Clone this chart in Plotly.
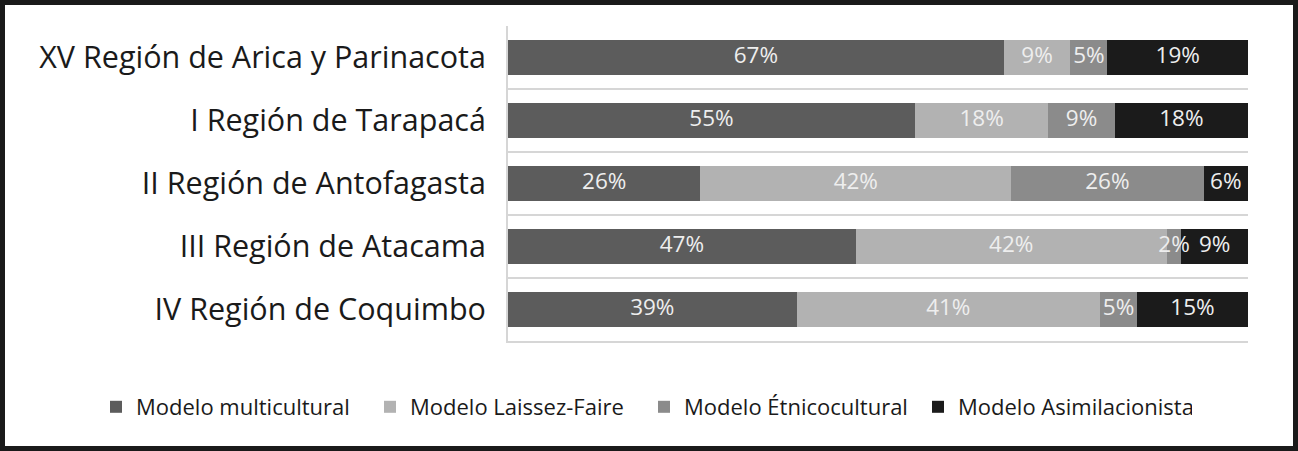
import plotly.graph_objects as go

regions = [
    "XV Región de Arica y Parinacota",
    "I Región de Tarapacá",
    "II Región de Antofagasta",
    "III Región de Atacama",
    "IV Región de Coquimbo",
]
multicultural = [67, 55, 26, 47, 39]
laissez_faire = [9, 18, 42, 42, 41]
etnicocultural = [5, 9, 26, 2, 5]
asimilacionista = [19, 18, 6, 9, 15]

series_names = [
    "Modelo multicultural",
    "Modelo Laissez-Faire",
    "Modelo Étnicocultural",
    "Modelo Asimilacionista",
]
series_values = [multicultural, laissez_faire, etnicocultural, asimilacionista]
series_colors = ["#5c5c5c", "#b2b2b2", "#8b8b8b", "#1b1b1b"]

W, H = 1298, 451
ML, MR, MT, MB = 508, 50, 26, 110
PW, PH = W - ML - MR, H - MT - MB

fig = go.Figure()
cum = [0] * len(regions)
for name, vals, col in zip(series_names, series_values, series_colors):
    fig.add_trace(go.Bar(
        y=regions, x=vals, name=name, orientation="h",
        marker=dict(color=col, line=dict(width=0)),
        hoverinfo="skip",
    ))
    mids = [c + v / 2 for c, v in zip(cum, vals)]
    fig.add_trace(go.Scatter(
        y=regions, x=mids, mode="text",
        text=[f"{v}%" for v in vals],
        textfont=dict(family="Open Sans", size=22.5, color="#eeeeee"),
        showlegend=False, hoverinfo="skip", cliponaxis=False,
    ))
    cum = [c + v for c, v in zip(cum, vals)]

legend_left_px = 96
legend_mid_px = 407

fig.update_layout(
    width=W, height=H,
    margin=dict(l=ML, r=MR, t=MT, b=MB, pad=0),
    barmode="stack", bargap=0.45,
    paper_bgcolor="white", plot_bgcolor="white",
    showlegend=True,
    legend=dict(
        orientation="h", xref="paper", yref="paper",
        x=(legend_left_px - ML) / PW, xanchor="left",
        y=(MT + PH - legend_mid_px) / PH, yanchor="middle",
        font=dict(family="Open Sans", size=22, color="#1a1a1a"),
        entrywidth=229, entrywidthmode="pixels",
        traceorder="normal",
    ),
    xaxis=dict(
        range=[0, 100], showgrid=False, zeroline=False,
        showticklabels=False, ticks="",
        showline=True, linecolor="#d6d6d6", linewidth=2,
        fixedrange=True,
    ),
    yaxis=dict(
        categoryorder="array", categoryarray=regions,
        autorange="reversed",
        tickson="boundaries", ticks="",
        showgrid=True, gridcolor="#d6d6d6", gridwidth=2,
        showline=True, linecolor="#d6d6d6", linewidth=2,
        tickfont=dict(family="Open Sans", size=30.5, color="#1a1a1a"),
        ticklabelstandoff=14,
        zeroline=False,
    ),
)

# outer black frame around the whole figure
bw = 5
fig.add_shape(
    type="rect", xref="paper", yref="paper",
    x0=(-ML + bw / 2) / PW, x1=(PW + MR - bw / 2) / PW,
    y0=(-MB + bw / 2) / PH, y1=(PH + MT - bw / 2) / PH,
    line=dict(color="#1a1a1a", width=bw), fillcolor="rgba(0,0,0,0)",
    layer="above",
)

fig.write_html(
    "out.html",
    config={"displayModeBar": False},
    post_script="document.body.style.margin='0';document.body.style.overflow='hidden';",
)
